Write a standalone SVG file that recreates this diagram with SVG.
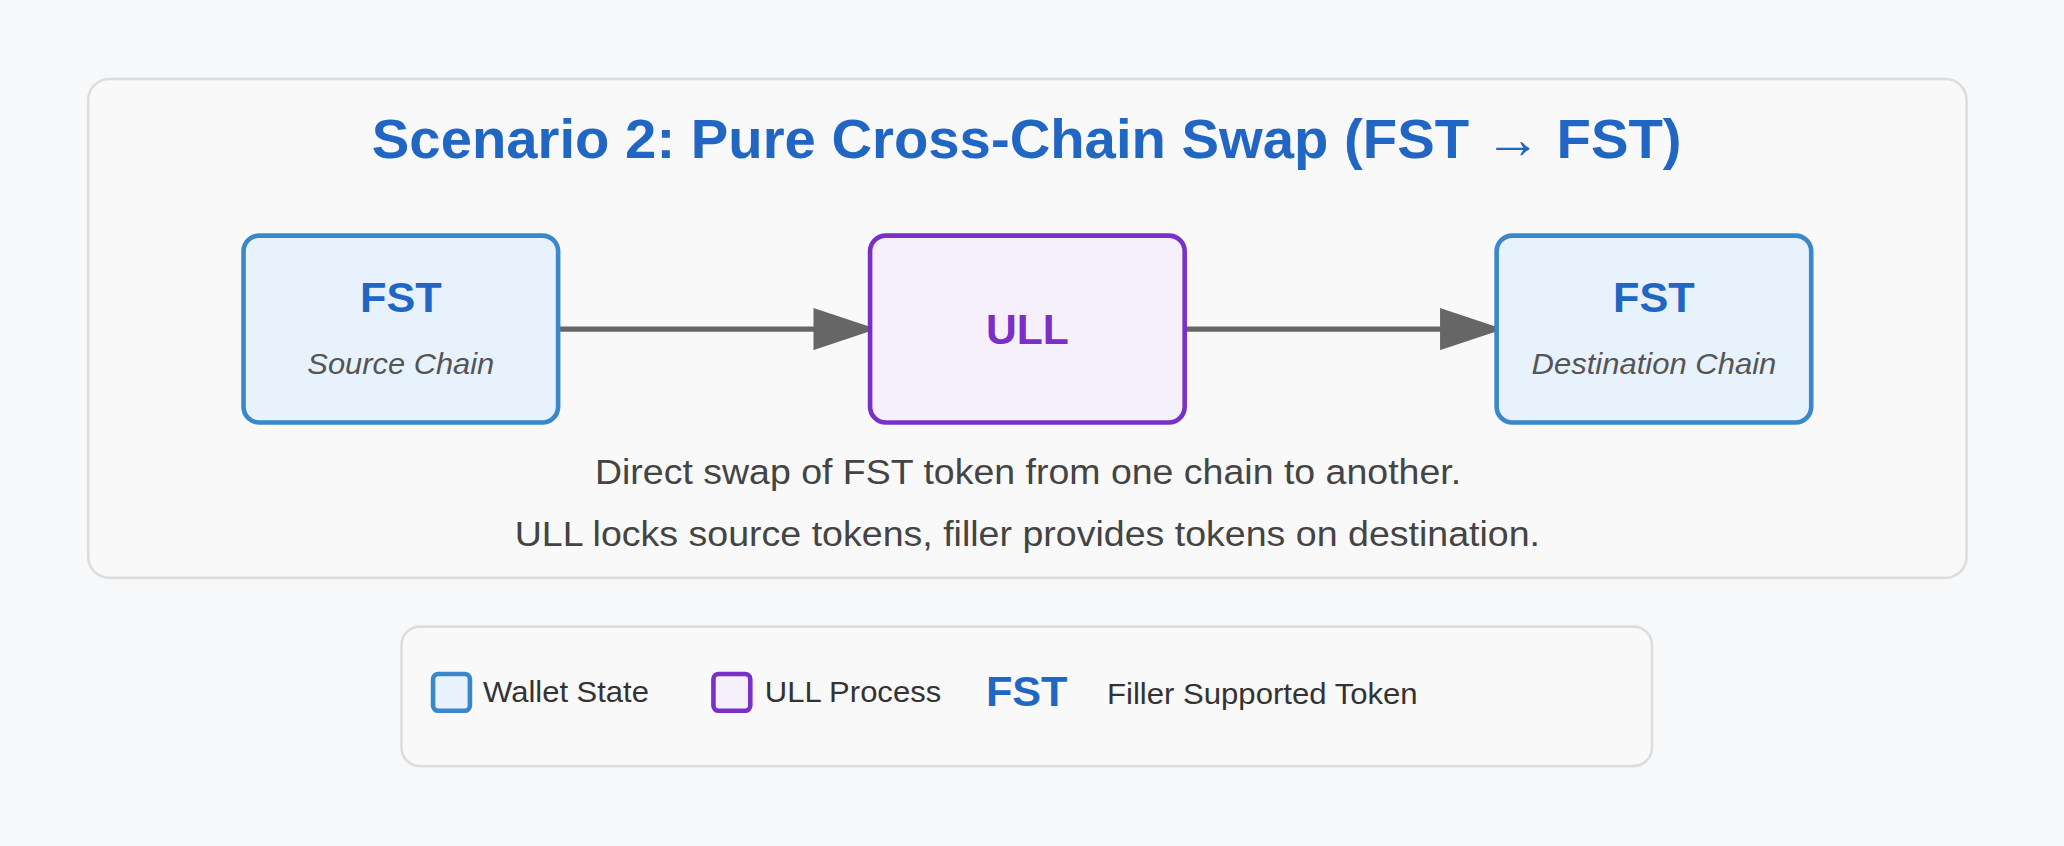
<svg xmlns="http://www.w3.org/2000/svg" width="2064" height="846" viewBox="0 0 2064 846">
<style>
text{font-family:"Liberation Sans",Arial,sans-serif}
.w{fill:#e8f2fd;stroke:#3a87c9;stroke-width:3.5}
.u{fill:#f6f0fd;stroke:#7b2fc9;stroke-width:3.5}
.fst{fill:#2266c4;font-weight:bold;font-size:33px;text-anchor:middle}
.sub{fill:#555;font-style:italic;font-size:23px;text-anchor:middle}
.d{fill:#444;font-size:27px;text-anchor:middle}
.l{fill:#333;font-size:22px}
.c{stroke:#666;stroke-width:4;fill:none}
</style>
<defs><marker id="a" markerWidth="12" markerHeight="8" refX="11.5" refY="4" orient="auto" markerUnits="strokeWidth"><path d="M0,0L12,4L0,8z" fill="#666"/></marker></defs>
<rect width="2064" height="846" fill="#f7f8fa"/>
<g transform="scale(1.3163)">
<rect x="67" y="60" width="1427" height="379" rx="16" fill="#f9f9f9" stroke="#ddd" stroke-width="2"/>
<text x="780" y="120" text-anchor="middle" font-size="42" font-weight="bold" fill="#2266c4" textLength="995" lengthAdjust="spacingAndGlyphs">Scenario 2: Pure Cross-Chain Swap (FST → FST)</text>
<g id="connectors">
<line class="c" x1="424" y1="250" x2="664" y2="250" marker-end="url(#a)"/>
<line class="c" x1="900" y1="250" x2="1140" y2="250" marker-end="url(#a)"/>
</g>
<g id="source"><rect class="w" x="185" y="179" width="239" height="142" rx="12"/><text class="fst" x="304.5" y="237" textLength="62" lengthAdjust="spacingAndGlyphs">FST</text><text class="sub" x="304.5" y="284" textLength="142" lengthAdjust="spacingAndGlyphs">Source Chain</text></g>
<g id="ull"><rect class="u" x="661" y="179" width="239" height="142" rx="12"/><text x="780.5" y="261" text-anchor="middle" font-size="33" font-weight="bold" fill="#7b2fc9" textLength="63" lengthAdjust="spacingAndGlyphs">ULL</text></g>
<g id="dest"><rect class="w" x="1137" y="179" width="239" height="142" rx="12"/><text class="fst" x="1256.5" y="237" textLength="62" lengthAdjust="spacingAndGlyphs">FST</text><text class="sub" x="1256.5" y="284" textLength="186" lengthAdjust="spacingAndGlyphs">Destination Chain</text></g>
<text class="d" x="781" y="368" textLength="658" lengthAdjust="spacingAndGlyphs">Direct swap of FST token from one chain to another.</text>
<text class="d" x="780.5" y="415" textLength="779" lengthAdjust="spacingAndGlyphs">ULL locks source tokens, filler provides tokens on destination.</text>
<g id="legend">
<rect x="305" y="476" width="950" height="106" rx="14" fill="#f9f9f9" stroke="#ddd" stroke-width="2"/>
<rect class="w" x="329" y="512" width="28" height="28" rx="4" stroke-width="2"/><text class="l" x="367" y="533" textLength="126" lengthAdjust="spacingAndGlyphs">Wallet State</text>
<rect class="u" x="542" y="512" width="28" height="28" rx="4" stroke-width="2"/><text class="l" x="581" y="533" textLength="134" lengthAdjust="spacingAndGlyphs">ULL Process</text>
<text x="749" y="536" font-size="33" font-weight="bold" fill="#2266c4" textLength="62" lengthAdjust="spacingAndGlyphs">FST</text>
<text class="l" x="841" y="535" textLength="236" lengthAdjust="spacingAndGlyphs">Filler Supported Token</text>
</g>
</g>
</svg>
